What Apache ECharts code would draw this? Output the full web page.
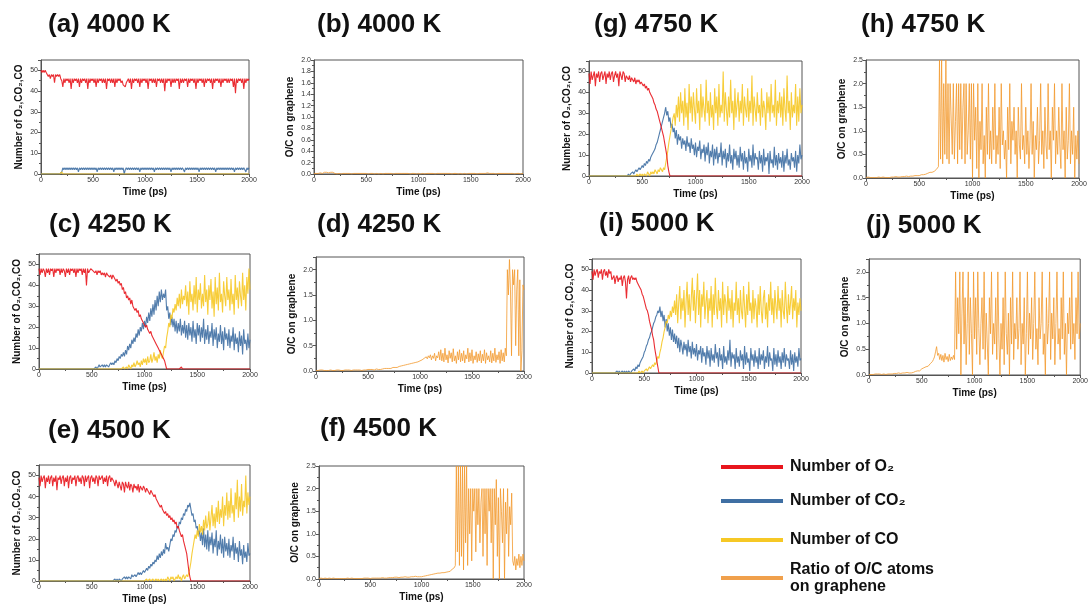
<!DOCTYPE html>
<html lang="en">
<head>
<meta charset="UTF-8">
<title>Graphene oxidation</title>
<style>
  html, body { margin: 0; padding: 0; background: #fff; }
  #main { width: 1091px; height: 605px; }
</style>
</head>
<body>
<div id="main"></div>
<script src="https://cdn.jsdelivr.net/npm/echarts@6/dist/echarts.min.js"></script>
<script>
// time stamps (ps), one row = 200 ps
var times = [
  0,10,20,30,40,50,60,70,80,90,100,110,120,130,140,150,160,170,180,190,
  200,210,220,230,240,250,260,270,280,290,300,310,320,330,340,350,360,370,380,390,
  400,410,420,430,440,450,460,470,480,490,500,510,520,530,540,550,560,570,580,590,
  600,610,620,630,640,650,660,670,680,690,700,710,720,730,740,750,760,770,780,790,
  800,810,820,830,840,850,860,870,880,890,900,910,920,930,940,950,960,970,980,990,
  1000,1010,1020,1030,1040,1050,1060,1070,1080,1090,1100,1110,1120,1130,1140,1150,1160,1170,1180,1190,
  1200,1210,1220,1230,1240,1250,1260,1270,1280,1290,1300,1310,1320,1330,1340,1350,1360,1370,1380,1390,
  1400,1410,1420,1430,1440,1450,1460,1470,1480,1490,1500,1510,1520,1530,1540,1550,1560,1570,1580,1590,
  1600,1610,1620,1630,1640,1650,1660,1670,1680,1690,1700,1710,1720,1730,1740,1750,1760,1770,1780,1790,
  1800,1810,1820,1830,1840,1850,1860,1870,1880,1890,1900,1910,1920,1930,1940,1950,1960,1970,1980,1990,
  2000];

// ---------- (a) 4000 K ----------
var a_O2 = [
  50,49,50,49,50,49,48,47,48,46, 48,47,48,44,48,47,48,47,48,46,
  45,42,46,44,46,45,46,44,46,41, 46,44,46,45,46,44,46,42,46,44,
  46,45,46,44,46,41,46,44,46,45, 46,44,46,42,46,44,46,45,46,44,
  46,44,46,41,46,45,46,44,46,44, 46,42,46,44,46,45,46,44,45,43,
  43,42,44,45,46,44,46,41,46,44, 46,45,46,44,46,42,46,44,46,45,
  46,44,46,41,46,45,46,44,46,44, 46,42,46,45,46,44,46,44,46,40,
  46,44,46,45,46,42,46,44,46,44, 46,45,46,41,46,44,46,44,46,45,
  46,42,46,44,46,45,46,44,46,41, 46,44,46,45,46,44,46,42,46,44,
  46,45,46,44,46,41,46,44,46,45, 46,44,46,42,46,44,46,45,46,44,
  46,44,46,45,46,42,46,39,46,44, 46,45,46,44,46,41,46,44,46,45,
  46];
var a_CO2 = [
  0,0,0,0,0,0,0,0,0,0, 0,0,0,0,0,0,0,0,0,0,
  1,3,2,3,2,3,2,3,2,3, 2,3,2,3,2,3,1,3,2,3,
  2,3,2,3,2,3,2,3,2,3, 2,3,2,3,1,3,2,3,2,3,
  2,3,2,3,2,3,2,3,2,3, 1,3,2,3,2,3,2,3,2,3,
  0,2,3,2,3,2,3,2,3,2, 3,2,3,2,3,1,3,2,3,2,
  3,2,3,2,3,2,3,2,3,1, 3,2,3,2,3,2,3,2,3,2,
  3,2,3,2,3,1,3,2,3,2, 3,2,3,2,3,2,3,2,1,3,
  2,3,2,3,2,3,2,3,2,3, 2,3,1,3,2,3,2,3,2,3,
  2,3,2,3,2,3,2,3,1,3, 2,3,2,3,2,3,2,3,2,3,
  2,3,2,3,2,3,1,3,2,3, 2,3,2,3,2,3,2,1,3,2,
  3];
var a_CO = [
  0,0,0,0,0,0,0,0,0,0, 0,0,0,0,0,0,0,0,0,0,
  1,0,0,0,0,0,0,0,0,0, 0,0,0,0,0,0,0,0,0,0,
  0,0,0,0,0,0,0,0,0,0, 0,0,0,0,0,0,0,0,0,0,
  0,0,0,0,0,0,0,0,0,0, 0,0,0,0,0,0,0,0,0,0,
  0,0,0,0,0,0,0,0,0,0, 0,0,0,0,0,0,0,0,0,0,
  0,0,0,0,0,0,0,0,0,0, 0,0,0,0,0,0,0,0,0,0,
  0,0,0,0,0,0,0,0,0,0, 0,0,0,0,0,0,0,0,0,0,
  0,0,0,0,0,0,0,0,0,0, 0,0,0,0,0,0,0,0,0,0,
  0,0,0,0,0,0,0,0,0,0, 0,0,0,0,0,0,0,0,0,0,
  0,0,0,0,0,0,0,0,0,0, 0,0,0,0,0,0,0,0,0,0,
  0];
// ---------- (b) 4000 K ----------
var b_OC = [
  0.01,0.01,0.01,0.02,0.01,0.01,0.02,0.01,0.01,0.02, 0.03,0.02,0.03,0.04,0.02,0.03,0.03,0.02,0.03,0.02,
  0.01,0.01,0,0.01,0.01,0.01,0,0.01,0.01,0.01, 0.01,0,0.01,0.01,0.01,0.01,0,0.01,0.01,0.01,
  0.01,0,0.01,0.01,0.01,0.01,0.01,0,0.01,0.01, 0.01,0.01,0,0.01,0.01,0.01,0.01,0.01,0,0.01,
  0.01,0.01,0,0.01,0.01,0.01,0,0.01,0.01,0.01, 0.01,0,0.01,0.01,0.01,0.01,0,0.01,0.01,0.01,
  0.01,0,0.01,0.01,0.01,0.01,0.01,0,0.01,0.01, 0.01,0.01,0,0.01,0.01,0.01,0.01,0.01,0,0.01,
  0.01,0.01,0,0.01,0.01,0.01,0,0.01,0.01,0.01, 0.01,0,0.01,0.01,0.01,0.01,0,0.01,0.01,0.01,
  0.01,0,0.01,0.01,0.01,0.01,0.01,0,0.01,0.01, 0.01,0.01,0,0.01,0.01,0.01,0.01,0.01,0,0.01,
  0.01,0.01,0,0.01,0.01,0.01,0,0.01,0.01,0.01, 0.01,0,0.01,0.01,0.01,0.01,0,0.01,0.01,0.01,
  0.01,0.01,0.01,0,0.01,0.01,0.02,0.01,0.01,0, 0.01,0.01,0.01,0.01,0,0.01,0.01,0.01,0.01,0.01,
  0.01,0,0.01,0.01,0.01,0.01,0.01,0,0.01,0.01, 0.01,0.01,0,0.01,0.01,0.01,0.01,0.01,0,0.01,
  0.01];

// ---------- (c) 4250 K ----------
var c_O2 = [
  48,45,48,46,48,47,44,48,46,48, 45,48,47,48,44,48,46,48,47,48,
  45,48,46,48,47,44,48,46,48,45, 48,47,48,46,48,44,48,46,48,47,
  48,45,48,46,48,40,48,46,47,48, 48,47,47,46,47,45,47,46,47,45,
  46,45,46,44,46,45,45,44,45,43, 45,44,44,42,43,41,42,40,41,38,
  39,36,37,34,35,33,34,31,33,30, 30,28,29,27,28,25,26,24,24,22,
  22,20,21,19,19,17,18,16,16,14, 14,12,12,10,9,8,7,6,5,4,
  2,0,0,0,0,0,0,0,0,0, 0,0,0,0,0,1,0,0,0,0,
  0,0,0,0,0,0,0,0,0,0, 0,0,0,0,0,0,0,0,0,0,
  0,0,0,0,0,0,0,0,0,0, 0,0,0,0,0,0,0,0,0,0,
  0,0,0,0,0,0,0,0,0,0, 0,0,0,0,0,0,0,0,0,0,
  0];
var c_CO2 = [
  0,0,0,0,0,0,0,0,0,0, 0,0,0,0,0,0,0,0,0,0,
  0,0,0,0,0,0,0,0,0,0, 0,0,0,0,0,0,0,0,0,0,
  0,0,0,0,0,0,0,0,0,0, 0,0,0,0,1,0,1,2,1,1,
  2,1,2,1,2,2,1,2,3,2, 3,2,4,3,5,4,6,5,7,6,
  8,6,9,7,11,9,12,10,14,12, 15,13,17,15,19,16,20,18,22,19,
  23,20,25,22,27,23,29,25,31,26, 33,28,35,30,37,32,38,33,36,34,
  38,28,30,24,27,21,25,20,24,18, 23,17,22,18,24,16,21,17,23,15,
  21,14,22,16,20,13,23,15,19,12, 22,16,21,13,20,15,24,12,19,14,
  21,12,18,15,22,11,19,14,20,10, 17,13,21,12,18,9,20,14,17,11,
  19,10,16,13,20,9,17,12,15,8, 18,11,16,7,19,12,14,9,17,10,
  14];
var c_CO = [
  0,0,0,0,0,0,0,0,0,0, 0,0,0,0,0,0,0,0,0,0,
  0,0,0,0,0,0,0,0,0,0, 0,0,0,0,0,0,0,0,0,0,
  0,0,0,0,0,0,0,0,0,0, 0,0,0,0,0,0,0,0,0,0,
  0,0,0,0,0,0,0,0,0,0, 0,0,0,0,0,0,0,0,0,0,
  1,0,0,1,0,2,1,0,2,1, 3,1,2,4,2,3,1,4,2,5,
  3,5,2,6,3,4,7,3,5,8, 4,6,3,7,5,9,6,5,8,11,
  10,15,18,22,20,26,24,29,27,31, 28,34,30,36,29,38,31,35,33,40,
  30,37,26,42,32,36,28,40,31,44, 27,38,33,41,29,36,30,45,32,38,
  26,40,33,43,29,37,25,44,31,39, 28,46,32,36,27,42,35,30,44,33,
  38,28,43,31,36,26,45,33,39,29, 42,35,30,46,33,40,28,44,36,48,
  38];
// ---------- (d) 4250 K ----------
var d_OC = [
  0.01,0.02,0.01,0.01,0.02,0.01,0.02,0.01,0.01,0.02, 0.01,0.02,0.01,0.01,0.02,0.01,0.01,0.02,0.01,0.01,
  0.02,0.01,0.02,0.01,0.01,0.02,0.01,0.02,0.02,0.01, 0.02,0.01,0.02,0.02,0.01,0.02,0.02,0.01,0.02,0.02,
  0.02,0.01,0.02,0.02,0.01,0.02,0.02,0.03,0.02,0.02, 0.03,0.02,0.03,0.02,0.03,0.03,0.02,0.03,0.04,0.03,
  0.03,0.04,0.03,0.04,0.04,0.03,0.05,0.04,0.05,0.04, 0.05,0.06,0.05,0.06,0.07,0.06,0.07,0.08,0.07,0.08,
  0.09,0.08,0.1,0.09,0.11,0.1,0.12,0.11,0.13,0.12, 0.14,0.13,0.15,0.14,0.16,0.15,0.17,0.16,0.18,0.17,
  0.2,0.18,0.22,0.2,0.25,0.22,0.28,0.24,0.3,0.26, 0.32,0.22,0.3,0.25,0.35,0.2,0.3,0.26,0.38,0.22,
  0.42,0.2,0.35,0.18,0.45,0.22,0.32,0.16,0.4,0.25, 0.36,0.18,0.44,0.2,0.3,0.15,0.38,0.22,0.42,0.18,
  0.35,0.2,0.4,0.16,0.32,0.24,0.45,0.18,0.36,0.2, 0.42,0.15,0.3,0.22,0.38,0.17,0.34,0.2,0.4,0.16,
  0.33,0.2,0.42,0.15,0.36,0.22,0.3,0.18,0.4,0.16, 0.35,0.2,0.45,0.17,0.32,0.22,0.38,0.15,0.42,0.2,
  0.36,0.18,0.45,0.3,2.0,1.5,2.2,1.6,0.3,2.0, 1.7,2.0,0.5,1.6,2.0,0.3,1.8,0.0,0.4,1.7,
  1.6];

// ---------- (e) 4500 K ----------
var e_O2 = [
  49,45,50,47,49,50,44,49,47,50, 46,49,50,45,49,47,50,43,49,48,
  50,46,49,50,45,49,47,50,44,49, 50,46,49,48,50,45,49,50,47,49,
  46,50,49,45,50,47,49,50,44,49, 50,47,49,46,50,49,45,50,48,49,
  50,46,49,47,50,45,49,50,47,49, 48,47,45,48,46,44,47,45,43,47,
  46,42,47,45,44,47,43,46,45,42, 46,44,45,43,46,42,45,44,43,45,
  44,42,44,43,43,41,43,42,42,40, 41,39,39,37,37,35,36,34,34,32,
  33,31,32,30,31,29,30,28,29,27, 28,25,26,24,24,21,22,19,17,15,
  13,9,5,2,0,0,0,0,0,0, 0,0,0,0,0,0,0,0,0,0,
  0,0,0,0,0,0,0,0,0,0, 0,0,0,0,0,0,0,0,0,0,
  0,0,0,0,0,0,0,0,0,0, 0,0,0,0,0,0,0,0,0,0,
  0];
var e_CO2 = [
  0,0,0,0,0,0,0,0,0,0, 0,0,0,0,0,0,0,0,0,0,
  0,0,0,0,0,0,0,0,0,0, 0,0,0,0,0,0,0,0,0,0,
  0,0,0,0,0,0,0,0,0,0, 0,0,0,0,0,0,0,0,0,0,
  0,0,0,0,0,0,0,0,0,0, 0,0,1,0,1,0,1,1,0,1,
  1,2,1,2,1,2,2,1,3,2, 2,3,2,3,4,3,4,3,4,5,
  4,5,6,5,7,6,8,7,9,8, 10,9,12,10,13,11,14,12,15,13,
  18,15,16,14,17,20,19,22,21,24, 23,26,25,28,27,30,29,32,31,34,
  33,36,35,37,34,31,32,28,29,25, 26,22,24,19,23,17,25,16,22,15,
  24,14,21,17,23,13,20,16,24,12, 19,15,22,13,20,11,21,14,18,12,
  20,11,17,14,21,10,18,13,16,9, 19,12,15,8,17,11,14,9,18,12,
  13];
var e_CO = [
  0,0,0,0,0,0,0,0,0,0, 0,0,0,0,0,0,0,0,0,0,
  0,0,0,0,0,0,0,0,0,0, 0,0,0,0,0,0,0,0,0,0,
  0,0,0,0,0,0,0,0,0,0, 0,0,0,0,0,0,0,0,0,0,
  0,0,0,0,0,0,0,0,0,0, 0,0,0,0,0,0,0,0,0,0,
  0,0,0,0,0,0,0,0,0,0, 0,0,0,0,0,0,0,0,0,0,
  0,0,1,0,0,1,0,0,1,0, 0,1,0,1,0,0,1,0,1,0,
  1,0,2,1,0,2,1,2,0,1, 2,1,3,1,2,0,2,3,1,2,
  3,2,4,6,9,13,16,19,22,20, 24,21,27,23,26,22,29,24,31,25,
  27,33,24,30,36,26,32,25,35,28, 38,27,34,30,40,26,36,31,42,29,
  38,30,44,32,36,28,42,34,48,30, 40,33,46,31,38,35,50,32,42,36,
  40];
// ---------- (f) 4500 K ----------
var f_OC = [
  0.01,0.01,0.02,0.01,0.01,0.01,0.02,0.01,0.01,0.01, 0.02,0.01,0.01,0.01,0.02,0.01,0.01,0.01,0.01,0.02,
  0.01,0.01,0.01,0.02,0.01,0.01,0.01,0.01,0.02,0.01, 0.01,0.01,0.02,0.01,0.01,0.01,0.01,0.02,0.01,0.01,
  0.01,0.02,0.01,0.01,0.02,0.01,0.02,0.01,0.02,0.02, 0.01,0.02,0.02,0.01,0.02,0.02,0.02,0.01,0.02,0.02,
  0.02,0.02,0.03,0.02,0.02,0.03,0.02,0.03,0.03,0.02, 0.03,0.04,0.03,0.03,0.04,0.03,0.04,0.04,0.03,0.04,
  0.04,0.03,0.04,0.04,0.05,0.04,0.04,0.05,0.04,0.05, 0.05,0.04,0.05,0.05,0.06,0.05,0.05,0.06,0.05,0.05,
  0.05,0.05,0.06,0.06,0.07,0.07,0.08,0.08,0.09,0.09, 0.1,0.1,0.11,0.11,0.12,0.12,0.13,0.12,0.13,0.14,
  0.14,0.15,0.14,0.16,0.15,0.17,0.16,0.18,0.17,0.2, 0.22,0.2,0.25,0.3,2.5,0.6,2.5,0.3,2.5,0.5,
  2.5,0.2,2.5,0.8,2.5,0.3,2.0,1.0,2.0,0.4, 2.0,1.5,2.0,0.6,2.0,1.2,2.0,0.8,1.7,2.0,
  0.5,2.0,1.0,2.0,0.3,2.0,1.5,2.0,0.8,2.0, 0.0,2.0,1.2,2.2,0.5,1.8,0.0,2.0,1.5,0.8,
  2.0,0.0,1.7,1.0,2.0,0.5,1.6,1.2,1.9,0.4, 0.3,0.5,0.2,0.45,0.3,0.55,0.25,0.5,0.3,0.55,
  0.4];

// ---------- (g) 4750 K ----------
var g_O2 = [
  49,44,50,46,48,50,43,49,47,50, 45,49,50,46,48,50,44,49,47,50,
  46,49,50,45,48,50,47,49,43,50, 48,46,50,49,45,48,47,46,48,45,
  47,46,45,47,44,46,45,46,44,45, 44,43,44,42,43,41,42,40,39,38,
  37,35,34,32,31,29,27,25,23,21, 19,16,13,10,5,2,0,0,0,0,
  0,0,0,0,0,0,0,0,0,0, 0,0,0,0,0,0,0,0,0,0,
  0,0,0,0,0,0,0,0,0,0, 0,0,0,0,0,0,0,0,0,0,
  0,0,0,0,0,0,0,0,0,0, 0,0,0,0,0,0,0,0,0,0,
  0,0,0,0,0,0,0,0,0,0, 0,0,0,0,0,0,0,0,0,0,
  0,0,0,0,0,0,0,0,0,0, 0,0,0,0,0,0,0,0,0,0,
  0,0,0,0,0,0,0,0,0,0, 0,0,0,0,0,0,0,0,0,0,
  0];
var g_CO2 = [
  0,0,0,0,0,0,0,0,0,0, 0,0,0,0,0,0,0,0,0,0,
  0,0,0,0,0,0,0,0,0,0, 0,0,0,0,0,0,0,1,0,1,
  1,2,1,2,3,2,3,4,3,4, 5,4,6,5,7,6,8,7,9,10,
  10,12,13,15,16,18,20,22,24,26, 28,30,33,29,31,26,28,23,25,21,
  23,18,22,15,20,17,19,13,18,15, 17,12,19,14,16,11,18,13,15,10,
  16,9,14,12,17,8,13,11,15,7, 14,10,16,6,12,9,15,5,13,8,
  14,6,11,9,16,5,12,8,13,4, 11,7,15,6,10,3,13,8,12,5,
  10,4,14,7,11,3,12,6,9,2, 13,7,10,4,15,5,11,8,9,3,
  12,6,10,2,13,5,9,7,11,1, 12,6,8,4,14,5,10,3,11,6,
  9,4,12,2,10,6,13,5,8,3, 11,7,9,4,12,2,10,6,15,8,
  10];
var g_CO = [
  0,0,0,0,0,0,0,0,0,0, 0,0,0,0,0,0,0,0,0,0,
  0,0,0,0,0,0,0,0,0,0, 0,0,0,0,0,0,0,0,0,0,
  0,0,0,0,0,1,0,0,1,0, 1,0,1,1,0,2,1,0,2,1,
  2,1,3,2,1,3,2,4,3,2, 4,3,6,9,12,16,19,22,25,28,
  30,24,34,28,38,26,40,30,36,24, 42,28,35,22,44,30,38,26,40,32,
  25,42,30,36,22,44,28,38,32,26, 46,30,36,24,40,28,34,22,42,30,
  38,24,44,28,34,30,50,26,40,32, 24,38,28,46,30,36,22,42,28,34,
  40,26,36,30,44,24,38,32,28,42, 26,36,30,48,24,38,32,26,40,30,
  34,24,42,28,36,32,22,40,30,38, 26,44,30,34,28,46,24,36,30,40,
  28,38,24,42,32,26,48,30,36,22, 40,28,34,30,44,24,38,26,42,30,
  34];
// ---------- (h) 4750 K ----------
var h_OC = [
  0.01,0.01,0.02,0.01,0.01,0.02,0.01,0.01,0.01,0.02, 0.01,0.01,0.02,0.01,0.01,0.01,0.02,0.01,0.01,0.02,
  0.01,0.02,0.01,0.02,0.02,0.01,0.02,0.02,0.03,0.02, 0.02,0.03,0.02,0.03,0.03,0.02,0.03,0.03,0.04,0.03,
  0.03,0.03,0.04,0.03,0.04,0.04,0.05,0.04,0.05,0.06, 0.05,0.06,0.07,0.06,0.07,0.08,0.08,0.09,0.1,0.1,
  0.12,0.13,0.12,0.15,0.14,0.16,0.18,0.2,0.24,2.5, 0.4,2.5,0.3,2.0,0.5,2.5,0.4,2.0,0.3,2.0,
  2.0,0.5,2.0,0.4,1.2,2.0,0.3,2.0,0.6,2.0, 0.4,1.5,2.0,0.3,2.0,0.5,1.0,2.0,0.4,2.0,
  0.0,2.0,0.8,1.5,0.2,2.0,0.0,1.2,0.6,2.0, 0.3,0.9,0.0,1.5,0.5,2.0,0.4,1.0,0.3,1.5,
  0.6,2.0,0.3,0.9,0.5,1.5,0.2,2.0,0.7,1.0, 0.4,0.8,0.0,1.5,0.6,2.0,0.3,1.2,0.8,1.5,
  0.5,1.0,0.0,1.5,0.7,0.4,2.0,0.6,0.9,0.3, 1.5,0.5,1.0,0.2,0.8,2.0,0.5,1.2,0.0,0.9,
  0.6,1.5,0.3,0.8,2.0,0.5,1.0,0.2,1.5,0.7, 0.4,2.0,0.6,1.0,0.0,1.5,0.8,2.0,0.3,1.0,
  0.5,1.5,0.7,0.2,2.0,0.6,1.0,0.0,1.5,0.4, 0.8,2.0,0.3,1.0,0.5,1.5,0.0,0.9,0.4,1.0,
  0.3];

// ---------- (i) 5000 K ----------
var i_O2 = [
  49,45,50,47,49,50,46,49,48,50, 45,49,50,47,49,46,50,48,49,45,
  46,47,43,46,47,44,46,45,47,42, 46,47,44,36,45,47,43,46,47,45,
  46,45,46,44,44,42,41,40,38,37, 35,33,31,30,28,25,23,21,18,16,
  12,9,6,3,0,0,0,0,0,0, 0,0,0,0,0,0,0,0,0,0,
  0,0,0,0,0,0,0,0,0,0, 0,0,0,0,0,0,0,0,0,0,
  0,0,0,0,0,0,0,0,0,0, 0,0,0,0,0,0,0,0,0,0,
  0,0,0,0,0,0,0,0,0,0, 0,0,0,0,0,0,0,0,0,0,
  0,0,0,0,0,0,0,0,0,0, 0,0,0,0,0,0,0,0,0,0,
  0,0,0,0,0,0,0,0,0,0, 0,0,0,0,0,0,0,0,0,0,
  0,0,0,0,0,0,0,0,0,0, 0,0,0,0,0,0,0,0,0,0,
  0];
var i_CO2 = [
  0,0,0,0,0,0,0,0,0,0, 0,0,0,0,0,0,0,0,0,0,
  0,0,0,0,1,0,1,0,0,1, 0,1,0,1,0,1,1,0,1,1,
  2,1,3,2,4,3,5,6,7,8, 10,11,13,14,16,17,19,20,22,24,
  25,27,28,30,29,32,27,30,25,28, 22,26,20,24,18,22,16,21,15,19,
  14,18,12,17,10,16,13,9,15,11, 14,8,16,10,13,7,15,9,12,8,
  14,6,11,9,13,5,12,8,10,4, 13,7,11,3,12,6,9,5,14,7,
  10,3,12,6,9,2,13,5,8,4, 11,6,16,3,10,7,9,2,12,5,
  8,3,11,6,9,2,13,4,10,5, 7,1,12,6,9,3,11,5,8,2,
  12,4,9,6,11,2,8,5,13,3, 10,6,7,1,12,4,9,3,11,5,
  8,2,10,5,12,3,9,6,7,2, 11,4,9,1,10,5,8,3,12,6,
  7];
var i_CO = [
  0,0,0,0,0,0,0,0,0,0, 0,0,0,0,0,0,0,0,0,0,
  0,0,0,0,0,0,0,0,0,0, 0,0,0,0,0,0,0,0,0,0,
  0,0,0,0,0,1,0,0,1,0, 1,1,2,1,2,3,2,3,4,3,
  5,4,6,8,7,10,12,15,17,20, 22,25,24,28,26,30,27,32,29,35,
  28,38,24,34,42,26,36,30,40,22, 34,44,28,38,25,36,46,30,40,24,
  36,48,28,40,22,38,32,44,26,34, 40,24,36,30,42,22,38,28,46,32,
  26,40,30,36,22,44,28,38,34,24, 42,30,36,26,40,22,34,30,44,28,
  36,24,40,30,26,42,32,22,38,28, 44,30,34,24,40,26,36,32,22,38,
  28,42,30,24,36,40,26,34,22,38, 30,44,28,36,24,40,32,26,42,30,
  36,22,40,30,26,44,32,24,38,28, 34,42,26,36,30,40,22,34,28,36,
  30];
// ---------- (j) 5000 K ----------
var j_OC = [
  0.01,0.01,0.01,0.02,0.01,0.01,0.02,0.01,0.02,0.01, 0.02,0.02,0.01,0.02,0.02,0.02,0.01,0.02,0.02,0.03,
  0.02,0.03,0.02,0.03,0.03,0.02,0.03,0.03,0.04,0.03, 0.03,0.04,0.04,0.03,0.04,0.04,0.05,0.04,0.04,0.05,
  0.04,0.05,0.05,0.06,0.07,0.06,0.08,0.09,0.08,0.1, 0.12,0.11,0.14,0.13,0.16,0.18,0.17,0.2,0.22,0.24,
  0.26,0.3,0.35,0.45,0.55,0.38,0.42,0.3,0.4,0.28, 0.38,0.25,0.42,0.3,0.36,0.26,0.4,0.28,0.35,0.3,
  0.38,0.3,2.0,0.5,1.5,0.8,2.0,0.0,1.2,2.0, 0.6,1.5,0.2,1.0,2.0,0.4,1.5,0.8,0.0,2.0,
  0.7,1.5,0.4,2.0,0.9,0.2,1.0,1.5,0.5,2.0, 0.3,1.2,0.6,0.0,1.5,0.8,2.0,0.4,1.0,0.6,
  1.5,0.3,2.0,0.7,0.0,1.0,0.5,1.5,0.2,2.0, 0.8,0.4,1.2,0.0,1.5,0.6,2.0,0.3,1.0,0.7,
  1.5,0.5,0.9,2.0,0.2,1.0,0.6,1.5,0.0,0.8, 2.0,0.4,1.2,0.7,1.5,0.3,1.0,2.0,0.5,0.9,
  0.2,1.5,0.7,1.0,2.0,0.4,0.8,0.0,1.5,0.6, 1.0,2.0,0.3,1.2,0.7,1.5,0.2,1.0,2.0,0.6,
  0.9,0.3,1.5,0.7,2.0,0.4,1.0,0.0,1.2,0.8, 1.5,0.5,2.0,0.6,1.0,0.3,1.5,0.8,2.0,0.7,
  1.0];

var RED = '#e8161d', BLUE = '#3f6fa3', YELLOW = '#f6c825', ORANGE = '#f29a2e';

// panels: title, title position, grid box [left, top, width, height], data
var panels = [
  {title:'(a) 4000 K', tx:48,  ty:12,  grid:[41, 60, 208, 114],  o2:a_O2, co2:a_CO2, co:a_CO},
  {title:'(b) 4000 K', tx:317, ty:12,  grid:[314, 60, 209, 114], oc:b_OC, ymax:2.0, step:0.2},
  {title:'(c) 4250 K', tx:49,  ty:212, grid:[39, 254, 211, 115], o2:c_O2, co2:c_CO2, co:c_CO},
  {title:'(d) 4250 K', tx:317, ty:212, grid:[316, 257, 208, 114], oc:d_OC, ymax:2.25, step:0.5},
  {title:'(e) 4500 K', tx:48,  ty:418, grid:[39, 465, 211, 116], o2:e_O2, co2:e_CO2, co:e_CO},
  {title:'(f) 4500 K', tx:320, ty:416, grid:[319, 466, 205, 113], oc:f_OC, ymax:2.5, step:0.5},
  {title:'(g) 4750 K', tx:594, ty:12,  grid:[589, 61, 213, 115], o2:g_O2, co2:g_CO2, co:g_CO},
  {title:'(h) 4750 K', tx:861, ty:12,  grid:[866, 60, 213, 118], oc:h_OC, ymax:2.5, step:0.5},
  {title:'(i) 5000 K', tx:599, ty:211, grid:[592, 259, 209, 114], o2:i_O2, co2:i_CO2, co:i_CO},
  {title:'(j) 5000 K', tx:866, ty:213, grid:[869, 259, 212, 116], oc:j_OC, ymax:2.25, step:0.5}
];

function pairs(arr) {
  return times.map(function (t, k) { return [t, arr[k]]; });
}

var FONT = 'Liberation Sans, Arial, sans-serif';
var axisColor = '#555';

var titles = [], grids = [], xAxes = [], yAxes = [], series = [];

panels.forEach(function (p, i) {
  titles.push({
    text: p.title, left: p.tx, top: p.ty, padding: 0,
    textStyle: {fontFamily: FONT, fontSize: 26, fontWeight: 'bold', color: '#111'}
  });
  grids.push({
    left: p.grid[0], top: p.grid[1], width: p.grid[2], height: p.grid[3],
    show: true, borderColor: axisColor, borderWidth: 1, backgroundColor: 'transparent'
  });
  xAxes.push({
    gridIndex: i, type: 'value', min: 0, max: 2000, interval: 500,
    name: 'Time (ps)', nameLocation: 'middle', nameGap: 13,
    nameTextStyle: {fontFamily: FONT, fontWeight: 'bold', fontSize: 10, color: '#111'},
    axisLine: {lineStyle: {color: axisColor}},
    axisTick: {length: 3, lineStyle: {color: axisColor}},
    minorTick: {show: true, splitNumber: 2, length: 2, lineStyle: {color: axisColor}},
    axisLabel: {fontSize: 7, color: '#333', margin: 3, formatter: function (v) { return String(v); }},
    splitLine: {show: false}
  });
  var isOC = !!p.oc;
  yAxes.push({
    gridIndex: i, type: 'value', min: 0,
    max: isOC ? p.ymax : 55, interval: isOC ? p.step : 10,
    name: isOC ? 'O/C on graphene' : 'Number of O₂,CO₂,CO',
    nameLocation: 'middle', nameGap: isOC ? 19 : 17,
    nameTextStyle: {fontFamily: FONT, fontWeight: 'bold', fontSize: 10, color: '#111'},
    axisLine: {lineStyle: {color: axisColor}},
    axisTick: {length: 3, lineStyle: {color: axisColor}},
    minorTick: {show: true, splitNumber: 2, length: 2, lineStyle: {color: axisColor}},
    axisLabel: {
      fontSize: 7, color: '#333', margin: 3,
      formatter: function (v) {
        if (isOC) {
          if (v > p.ymax + 1e-9 || Math.abs(v / p.step - Math.round(v / p.step)) > 1e-6) return '';
          return v.toFixed(1);
        }
        return v > 50 ? '' : String(v);
      }
    },
    splitLine: {show: false}
  });
  var base = {type: 'line', xAxisIndex: i, yAxisIndex: i, symbol: 'none', showSymbol: false};
  if (isOC) {
    series.push(Object.assign({}, base, {
      name: 'Ratio of O/C atoms on graphene', data: pairs(p.oc),
      lineStyle: {width: 1, color: ORANGE, opacity: 0.8}, itemStyle: {color: ORANGE}
    }));
  } else {
    series.push(Object.assign({}, base, {
      name: 'Number of CO₂', data: pairs(p.co2),
      lineStyle: {width: 1.1, color: BLUE, opacity: 0.9}, itemStyle: {color: BLUE}
    }));
    series.push(Object.assign({}, base, {
      name: 'Number of CO', data: pairs(p.co),
      lineStyle: {width: 1.1, color: YELLOW, opacity: 0.9}, itemStyle: {color: YELLOW}
    }));
    series.push(Object.assign({}, base, {
      name: 'Number of O₂', data: pairs(p.o2),
      lineStyle: {width: 1.1, color: RED, opacity: 0.9}, itemStyle: {color: RED}
    }));
  }
});

// legend drawn by hand (bottom right)
var legendItems = [
  {y: 467, color: RED, text: 'Number of O₂'},
  {y: 501, color: BLUE, text: 'Number of CO₂'},
  {y: 540, color: YELLOW, text: 'Number of CO'},
  {y: 578, color: '#f0a04c', text: 'Ratio of O/C atoms\non graphene'}
];
var graphics = [];
legendItems.forEach(function (it) {
  graphics.push({
    type: 'line', shape: {x1: 721, y1: it.y, x2: 783, y2: it.y},
    style: {stroke: it.color, lineWidth: 4}
  });
  graphics.push({
    type: 'text', x: 790, y: it.y,
    style: {text: it.text, font: 'bold 16px ' + FONT, fill: '#111',
            verticalAlign: 'middle', lineHeight: 17}
  });
});

var myChart = echarts.init(document.getElementById('main'));
myChart.setOption({
  animation: false,
  textStyle: {fontFamily: FONT},
  title: titles,
  grid: grids,
  xAxis: xAxes,
  yAxis: yAxes,
  series: series,
  graphic: graphics
});
</script>
</body>
</html>
